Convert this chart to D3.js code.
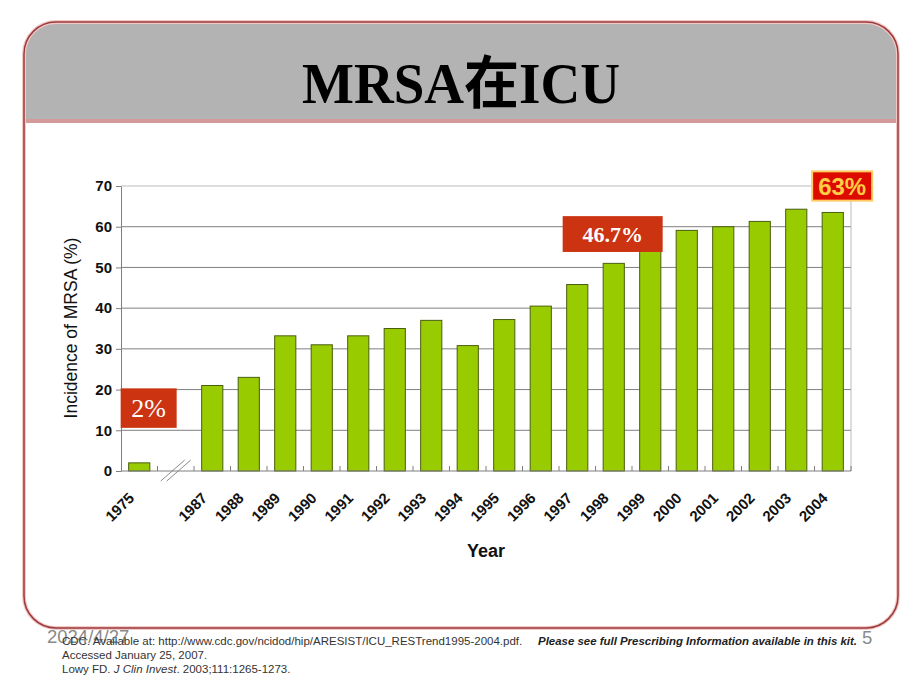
<!DOCTYPE html>
<html>
<head>
<meta charset="utf-8">
<script src="https://cdn.jsdelivr.net/npm/d3@7"></script>
<style>
	body{margin:0;background:#fff;}
	svg{display:block;}
</style>
</head>
<body>
<svg width="920" height="690"></svg>
<script>
// slot keys on the x axis; "gap" is the broken-axis slot
const years = ["1975","gap","1987","1988","1989","1990","1991","1992","1993","1994","1995","1996","1997","1998","1999","2000","2001","2002","2003","2004"];
const incidence = [2,null,21,23,33.2,31,33.2,35,37,30.8,37.2,40.5,45.8,51,55.5,59.1,60,61.3,64.3,63.5];
const yTicks = [0,10,20,30,40,50,60,70];
// callouts: [text, slot, value at top of box, value at bottom of box]
const callouts = [["2%","1975",20.3,10.6],["46.7%","1997",62.6,53.8],["63%","2004",73.6,66.4]];
const refs = [
	"CDC. Available at: http://www.cdc.gov/ncidod/hip/ARESIST/ICU_RESTrend1995-2004.pdf.",
	"Accessed January 25, 2007."
];

const svg = d3.select("svg");
const pLeft = 121, pRight = 851, pTop = 186, pBottom = 471;
const ff = "'Liberation Sans',Arial,sans-serif";

// slide frame
const frame = svg.append("g");
frame.append("clipPath").attr("id","fr")
	.append("rect").attr("x",24).attr("y",22).attr("width",874).attr("height",606).attr("rx",32);
frame.append("rect").attr("x",24).attr("y",22).attr("width",874).attr("height",100)
	.attr("fill","#b3b3b3").attr("clip-path","url(#fr)");
frame.append("rect").attr("x",24).attr("y",119).attr("width",874).attr("height",4)
	.attr("fill","#d49a9a");
frame.append("rect").attr("x",24).attr("y",22).attr("width",874).attr("height",606).attr("rx",32)
	.attr("fill","none").attr("stroke","#f2c8c8").attr("stroke-width",4);
frame.append("rect").attr("x",24).attr("y",22).attr("width",874).attr("height",606).attr("rx",32)
	.attr("fill","none").attr("stroke","#9a3a3a").attr("stroke-width",1.5);

svg.append("text")
	.attr("x",461).attr("y",103)
	.attr("text-anchor","middle")
	.attr("font-family","'Liberation Serif','Noto Sans CJK SC',serif")
	.attr("font-weight","bold").attr("font-size",57)
	.attr("textLength",318).attr("lengthAdjust","spacingAndGlyphs")
	.text("MRSA在ICU");

const x = d3.scaleBand().domain(years).range([pLeft,pRight]).paddingInner(0.42).paddingOuter(0.21);
const y = d3.scaleLinear().domain([0,70]).range([pBottom,pTop]);
const gap = (x.step()-x.bandwidth())/2;

// grid
svg.append("g").selectAll("line").data(yTicks.filter(d=>d>0)).join("line")
	.attr("x1",pLeft).attr("x2",pRight)
	.attr("y1",d=>y(d)).attr("y2",d=>y(d))
	.attr("stroke",d=>d==70?"#bbbbbb":"#7f7f7f").attr("stroke-width",1);
svg.append("line").attr("x1",pRight).attr("x2",pRight).attr("y1",pTop).attr("y2",pBottom)
	.attr("stroke","#bbbbbb");

// bars
svg.append("g").selectAll("rect")
	.data(years.map((k,i)=>({k,v:incidence[i]})).filter(d=>d.v!=null))
	.join("rect")
		.attr("x",d=>x(d.k)).attr("width",x.bandwidth())
		.attr("y",d=>y(d.v)).attr("height",d=>y(0)-y(d.v))
		.attr("fill","#99cc00").attr("stroke","#4a5e10").attr("stroke-width",1);

// y axis
const yAxis = svg.append("g").attr("transform",`translate(${pLeft},0)`)
	.call(d3.axisLeft(y).tickValues(yTicks).tickSize(5).tickSizeOuter(0).tickPadding(4));
yAxis.select(".domain").attr("stroke","#7f7f7f");
yAxis.selectAll(".tick line").attr("stroke","#7f7f7f");
yAxis.selectAll("text").attr("font-family",ff)
	.attr("font-weight","bold").attr("font-size",15).attr("fill","#111");

// x axis
const xAxis = svg.append("g").attr("transform",`translate(0,${pBottom})`)
	.call(d3.axisBottom(x).tickSize(0).tickSizeOuter(0).tickFormat(d=>d=="gap"?"":d));
xAxis.select(".domain").attr("stroke","#7f7f7f").attr("d",`M${pLeft},0H${pRight}`);
xAxis.selectAll("text")
	.attr("font-family",ff)
	.attr("font-weight","bold").attr("font-size",15).attr("fill","#111")
	.attr("text-anchor","end")
	.attr("y",0).attr("dy",0)
	.attr("transform","translate(-4,28) rotate(-45)");
// boundary ticks, pointing up into the plot
svg.append("g").selectAll("line").data(years.slice(1)).join("line")
	.attr("x1",d=>x(d)-gap).attr("x2",d=>x(d)-gap)
	.attr("y1",pBottom).attr("y2",pBottom-5)
	.attr("stroke","#7f7f7f");
svg.append("line").attr("x1",pRight).attr("x2",pRight).attr("y1",pBottom).attr("y2",pBottom-5).attr("stroke","#7f7f7f");

// axis break marks in the gap slot
const bx = x("gap")+x.bandwidth()/2;
svg.append("g").selectAll("line").data([-3,3]).join("line")
	.attr("x1",d=>bx+d-12).attr("y1",pBottom+10)
	.attr("x2",d=>bx+d+12).attr("y2",pBottom-11)
	.attr("stroke","#8c8c8c").attr("stroke-width",1);

// axis titles
svg.append("text").attr("x",486).attr("y",557).attr("text-anchor","middle")
	.attr("font-family",ff).attr("font-weight","bold")
	.attr("font-size",18).attr("fill","#111").text("Year");
svg.append("text").attr("transform","translate(77,328) rotate(-90)").attr("text-anchor","middle")
	.attr("font-family",ff)
	.attr("font-size",17.5).attr("fill","#111").text("Incidence of MRSA (%)");

// callouts
const cg = svg.append("g");
callouts.forEach(([t,k,v1,v2],i)=>{
	const y1 = y(v1), y2 = y(v2);
	if(i==0){
		cg.append("rect").attr("x",x(k)-8).attr("y",y1).attr("width",56).attr("height",y2-y1).attr("fill","#cc3311");
		cg.append("text").attr("x",x(k)+20).attr("y",(y1+y2)/2+9).attr("text-anchor","middle")
			.attr("font-family","'Liberation Serif',serif").attr("font-size",26).attr("fill","#fff").text(t);
	}else if(i==1){
		cg.append("rect").attr("x",x(k)-4).attr("y",y1).attr("width",100).attr("height",y2-y1).attr("fill","#cc3311");
		cg.append("text").attr("x",x(k)+46).attr("y",(y1+y2)/2+8).attr("text-anchor","middle")
			.attr("font-family","'Liberation Serif',serif").attr("font-weight","bold").attr("font-size",22).attr("fill","#fff").text(t);
	}else{
		cg.append("rect").attr("x",x(k)-10).attr("y",y1).attr("width",60).attr("height",y2-y1)
			.attr("fill","#dd0a00").attr("stroke","#ffcc66").attr("stroke-width",2);
		cg.append("text").attr("x",x(k)+20).attr("y",(y1+y2)/2+9).attr("text-anchor","middle")
			.attr("font-family",ff).attr("font-weight","bold").attr("font-size",24).attr("fill","#ffcc44").text(t);
	}
});

// footer
svg.append("text").attr("x",47).attr("y",643).attr("font-family",ff).attr("font-size",18.5).attr("fill","#8a8a8a").text("2024/4/27");
svg.append("text").attr("x",862).attr("y",644).attr("font-family",ff).attr("font-size",18.5).attr("fill","#8a8a8a").text("5");
refs.forEach((r,i)=>{
	svg.append("text").attr("x",62).attr("y",645+i*14).attr("font-family",ff).attr("font-size",11.5).attr("fill","#333").text(r);
});
svg.append("text").attr("x",538).attr("y",645).attr("font-family",ff).attr("font-size",11.5)
	.attr("font-weight","bold").attr("font-style","italic").attr("fill","#222")
	.attr("textLength",319).attr("lengthAdjust","spacingAndGlyphs")
	.text("Please see full Prescribing Information available in this kit.");
const lowy = svg.append("text").attr("x",62).attr("y",673).attr("font-family",ff).attr("font-size",11.5).attr("fill","#333");
lowy.append("tspan").text("Lowy FD. ");
lowy.append("tspan").attr("font-style","italic").text("J Clin Invest");
lowy.append("tspan").text(". 2003;111:1265-1273.");
</script>
</body>
</html>
